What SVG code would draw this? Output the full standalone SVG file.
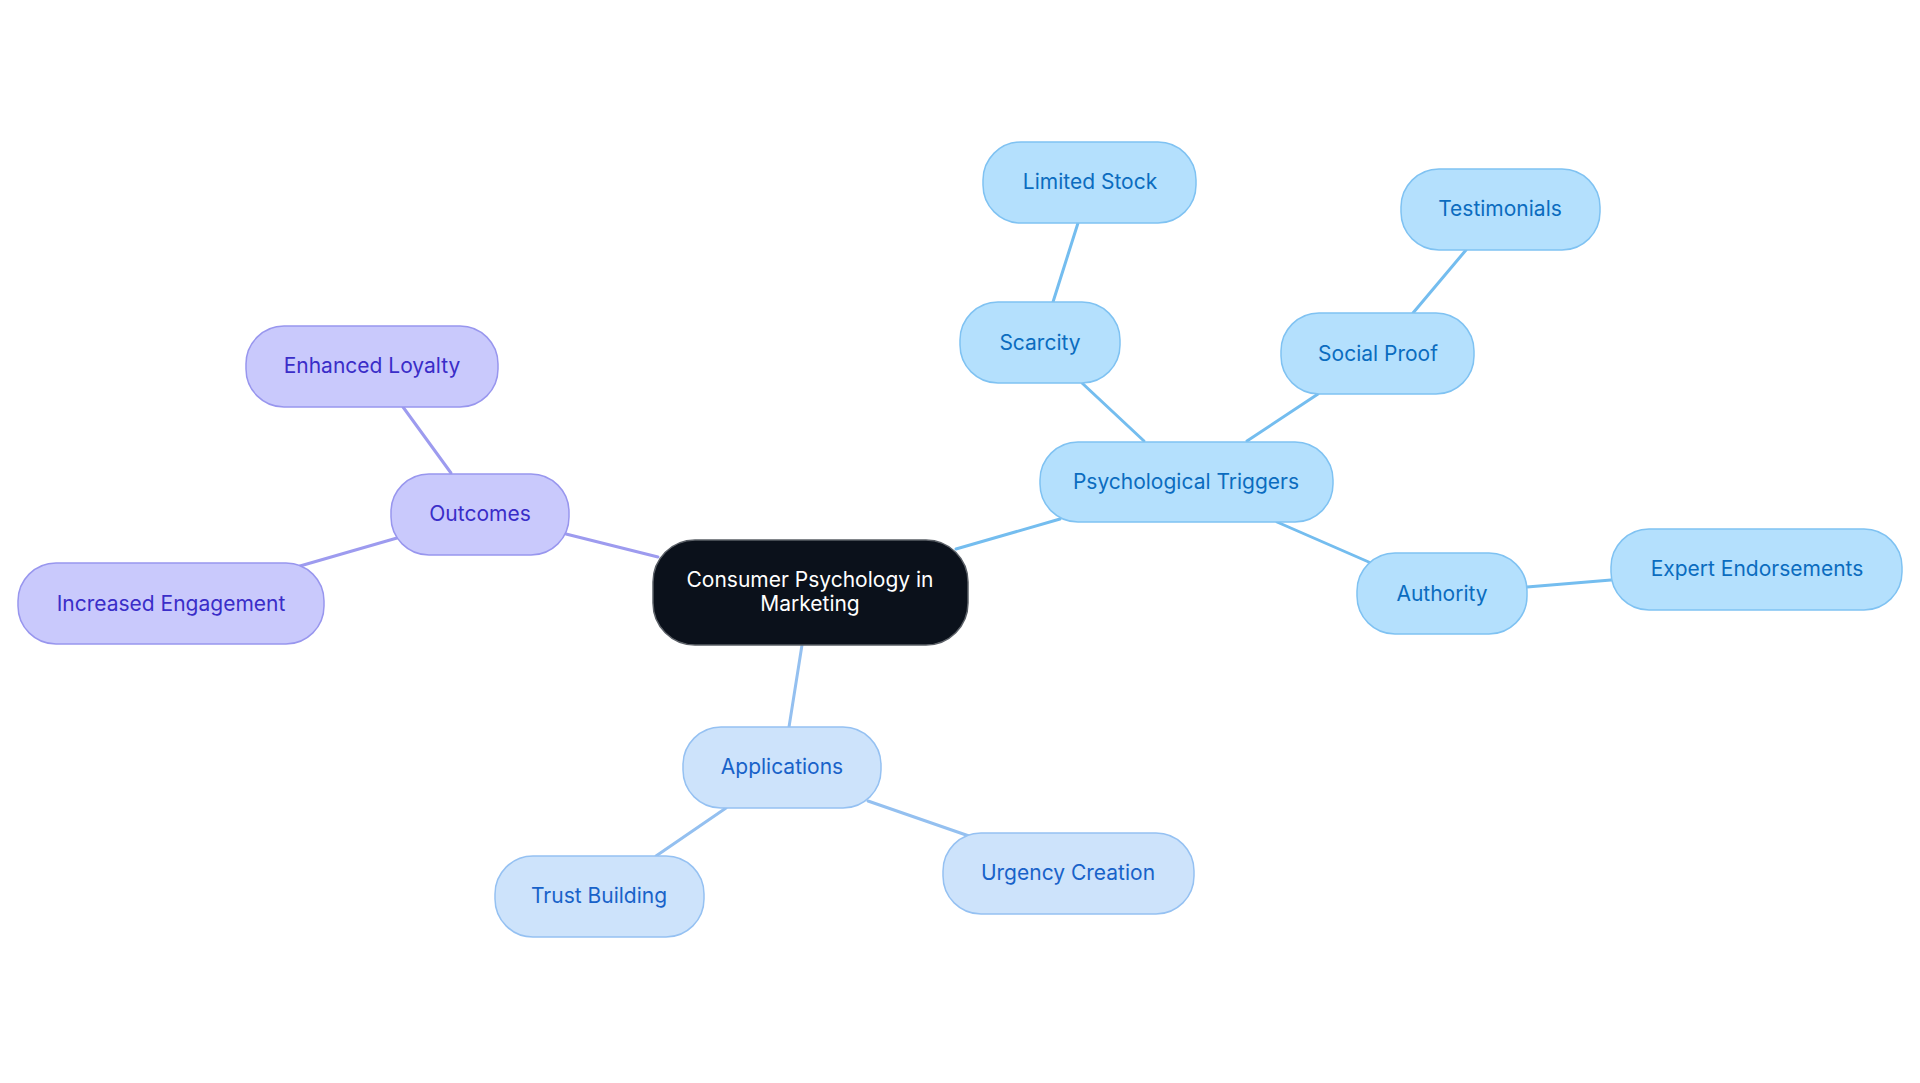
<svg xmlns="http://www.w3.org/2000/svg" width="1920" height="1083" viewBox="0 0 1920 1083">
<style>
text{font-family:Inter,"Noto Sans","Liberation Sans",sans-serif;font-size:21px;text-anchor:middle}
.p rect{fill:#c9c9fc;stroke:#9896ee;stroke-width:1.5}
.p text{fill:#3a2dc8}
.b rect{fill:#b4e0fd;stroke:#7fc2f2;stroke-width:1.5}
.b text{fill:#0b6cbf}
.a rect{fill:#cde3fb;stroke:#95c1f2;stroke-width:1.5}
.a text{fill:#1862c9}
.c rect{fill:#0b111b;stroke:#5a5f66;stroke-width:1.5}
.c text{fill:#ffffff}
#edges line{stroke-width:3;stroke-linecap:round}
.ep{stroke:#9d9bef}
.eb{stroke:#74bdef}
.ea{stroke:#94c0f0}
</style>
<rect width="1920" height="1083" fill="#ffffff"/>
<g id="edges">
<line class="ep" x1="658" y1="557" x2="566" y2="534"/>
<line class="ep" x1="451" y1="473" x2="403" y2="407"/>
<line class="ep" x1="397" y1="538" x2="300" y2="566"/>
<line class="eb" x1="956" y1="549" x2="1060" y2="519"/>
<line class="eb" x1="1144" y1="441" x2="1082" y2="383"/>
<line class="eb" x1="1053" y1="302" x2="1078" y2="223"/>
<line class="eb" x1="1247" y1="441" x2="1318" y2="394"/>
<line class="eb" x1="1413" y1="313" x2="1466" y2="250"/>
<line class="eb" x1="1277" y1="522" x2="1371" y2="563"/>
<line class="eb" x1="1527" y1="587" x2="1611" y2="580"/>
<line class="ea" x1="802" y1="645" x2="789" y2="727"/>
<line class="ea" x1="726" y1="808" x2="656" y2="856"/>
<line class="ea" x1="868" y1="801" x2="969" y2="836"/>
</g>
<g id="center" class="c">
<rect x="653" y="540" width="315" height="105" rx="42"/>
<text x="810" y="587">Consumer Psychology in</text>
<text x="810" y="611">Marketing</text>
</g>
<g id="outcomes" class="p">
<rect x="391" y="474" width="178" height="81" rx="38"/>
<text x="480" y="521">Outcomes</text>
</g>
<g id="enhanced-loyalty" class="p">
<rect x="246" y="326" width="252" height="81" rx="38"/>
<text x="372" y="373">Enhanced Loyalty</text>
</g>
<g id="increased-engagement" class="p">
<rect x="18" y="563" width="306" height="81" rx="38"/>
<text x="171" y="611">Increased Engagement</text>
</g>
<g id="psychological-triggers" class="b">
<rect x="1040" y="442" width="293" height="80" rx="38"/>
<text x="1186" y="489">Psychological Triggers</text>
</g>
<g id="scarcity" class="b">
<rect x="960" y="302" width="160" height="81" rx="38"/>
<text x="1040" y="350">Scarcity</text>
</g>
<g id="limited-stock" class="b">
<rect x="983" y="142" width="213" height="81" rx="38"/>
<text x="1090" y="189">Limited Stock</text>
</g>
<g id="social-proof" class="b">
<rect x="1281" y="313" width="193" height="81" rx="38"/>
<text x="1378" y="361">Social Proof</text>
</g>
<g id="testimonials" class="b">
<rect x="1401" y="169" width="199" height="81" rx="38"/>
<text x="1500" y="216">Testimonials</text>
</g>
<g id="authority" class="b">
<rect x="1357" y="553" width="170" height="81" rx="38"/>
<text x="1442" y="601">Authority</text>
</g>
<g id="expert-endorsements" class="b">
<rect x="1611" y="529" width="291" height="81" rx="38"/>
<text x="1757" y="576">Expert Endorsements</text>
</g>
<g id="applications" class="a">
<rect x="683" y="727" width="198" height="81" rx="38"/>
<text x="782" y="774">Applications</text>
</g>
<g id="trust-building" class="a">
<rect x="495" y="856" width="209" height="81" rx="38"/>
<text x="599" y="903">Trust Building</text>
</g>
<g id="urgency-creation" class="a">
<rect x="943" y="833" width="251" height="81" rx="38"/>
<text x="1068" y="880">Urgency Creation</text>
</g>
</svg>
